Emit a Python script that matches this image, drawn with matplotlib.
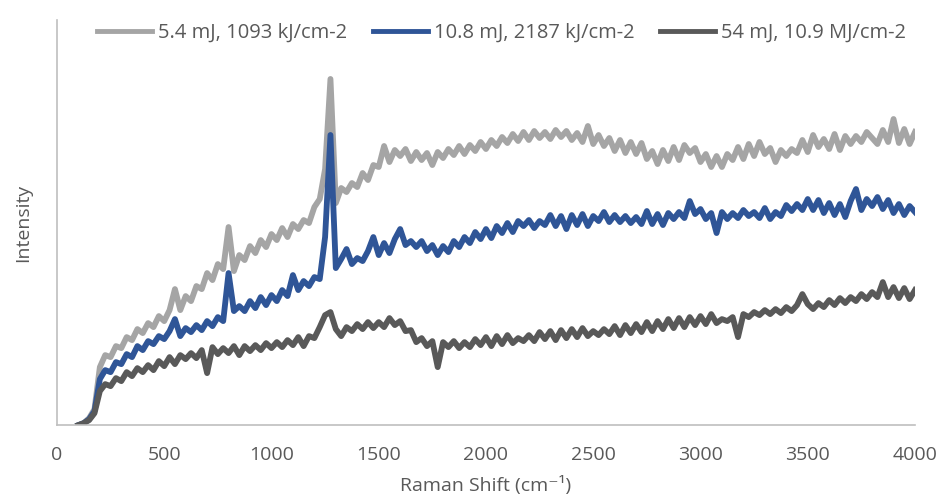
import numpy as np
import matplotlib.pyplot as plt

plt.rcParams['font.family'] = ['Open Sans', 'DejaVu Sans']

# Raman shift axis (cm-1), sampled every 25 cm-1
shift = np.arange(100, 4001, 25)

labels = ['5.4 mJ, 1093 kJ/cm-2', '10.8 mJ, 2187 kJ/cm-2', '54 mJ, 10.9 MJ/cm-2']
colors = ['#A5A5A5', '#2F5597', '#595959']

# intensities (arbitrary units)
low = [
    0, 2, 7, 16, 58, 70, 68, 79,
    77, 88, 85, 96, 92, 102, 98, 109,
    104, 115, 136, 115, 129, 124, 139, 136,
    152, 145, 161, 156, 198, 154, 170, 165,
    179, 172, 185, 178, 191, 185, 197, 188,
    201, 196, 205, 202, 218, 226, 256, 346,
    222, 237, 233, 242, 238, 252, 245, 260,
    258, 279, 263, 275, 269, 276, 264, 273,
    265, 272, 260, 273, 267, 276, 270, 279,
    271, 280, 274, 283, 276, 285, 279, 288,
    282, 291, 284, 293, 285, 294, 287, 293,
    286, 295, 288, 294, 285, 292, 283, 299,
    281, 290, 279, 287, 274, 285, 272, 283,
    271, 282, 266, 274, 261, 275, 264, 278,
    265, 280, 272, 277, 263, 271, 258, 269,
    258, 271, 265, 278, 266, 281, 269, 283,
    271, 277, 263, 275, 269, 276, 272, 285,
    273, 290, 278, 286, 276, 291, 275, 289,
    281, 289, 283, 293, 287, 281, 295, 283,
    306, 282, 296, 281, 293,
]
mid = [
    0, 2, 6, 14, 46, 55, 53, 63,
    61, 71, 68, 79, 75, 84, 81, 89,
    86, 94, 106, 89, 97, 93, 100, 95,
    104, 99, 108, 104, 152, 114, 119, 114,
    124, 117, 128, 120, 130, 124, 135, 129,
    150, 135, 144, 139, 148, 146, 188, 290,
    157, 166, 176, 161, 167, 164, 174, 188,
    170, 182, 172, 186, 196, 180, 184, 178,
    184, 174, 180, 170, 179, 173, 184, 178,
    188, 182, 193, 186, 196, 187, 199, 192,
    202, 193, 204, 199, 205, 197, 204, 200,
    210, 199, 209, 196, 210, 200, 211, 199,
    209, 204, 213, 203, 210, 203, 209, 202,
    208, 201, 214, 201, 211, 200, 212, 206,
    213, 207, 224, 211, 216, 206, 212, 192,
    213, 206, 212, 207, 215, 209, 213, 207,
    217, 206, 213, 209, 220, 214, 221, 215,
    226, 215, 225, 212, 222, 210, 221, 208,
    224, 236, 215, 226, 219, 228, 216, 225,
    212, 221, 210, 219, 213,
]
high = [
    0, 2, 5, 12, 34, 41, 39, 47,
    44, 53, 49, 57, 53, 60, 55, 64,
    59, 68, 61, 70, 66, 72, 67, 75,
    52, 78, 71, 77, 72, 79, 70, 79,
    74, 80, 75, 82, 77, 83, 78, 85,
    80, 88, 79, 89, 87, 98, 110, 113,
    96, 89, 98, 94, 101, 96, 103, 97,
    103, 98, 107, 100, 104, 94, 95, 83,
    87, 79, 84, 58, 83, 78, 84, 77,
    83, 78, 86, 80, 88, 79, 89, 81,
    90, 82, 87, 84, 90, 84, 93, 86,
    94, 85, 95, 87, 96, 88, 97, 89,
    94, 90, 96, 91, 99, 90, 100, 92,
    101, 93, 103, 94, 104, 96, 106, 97,
    107, 98, 108, 100, 109, 101, 111, 102,
    106, 104, 108, 88, 111, 108, 113, 110,
    115, 111, 116, 112, 118, 114, 120, 131,
    121, 116, 122, 118, 125, 120, 127, 122,
    128, 124, 131, 126, 133, 128, 143, 128,
    138, 127, 137, 126, 135,
]

fig = plt.figure(figsize=(9.43, 4.99), dpi=100)
ax = fig.add_axes([0.0604, 0.148, 0.9099, 0.812])

for y, lab, c in zip([low, mid, high], labels, colors):
    ax.plot(shift, y, color=c, lw=4.2, label=lab, solid_joinstyle='round')

ax.set_xlim(0, 4000)
ax.set_ylim(0, 405)
ax.set_xticks(np.arange(0, 4001, 500))
ax.set_yticks([])
ax.tick_params(axis='x', length=0, labelsize=14, labelcolor='#595959', pad=15)

for s in ['top', 'right']:
    ax.spines[s].set_visible(False)
for s in ['left', 'bottom']:
    ax.spines[s].set_color('#BFBFBF')
    ax.spines[s].set_linewidth(1.2)

ax.set_xlabel('Raman Shift (cm⁻¹)', fontsize=14, color='#595959', labelpad=9)
ax.set_ylabel('Intensity', fontsize=14, color='#595959', labelpad=18)

leg = fig.legend(loc='upper center', bbox_to_anchor=(0.532, 0.99), ncol=3,
                 frameon=False, fontsize=14.5, labelcolor='#595959',
                 handlelength=2.7, handletextpad=0.3, columnspacing=1.3)
for h in leg.get_lines():
    h.set_linewidth(3.5)

fig.savefig('out.png', dpi=100)
